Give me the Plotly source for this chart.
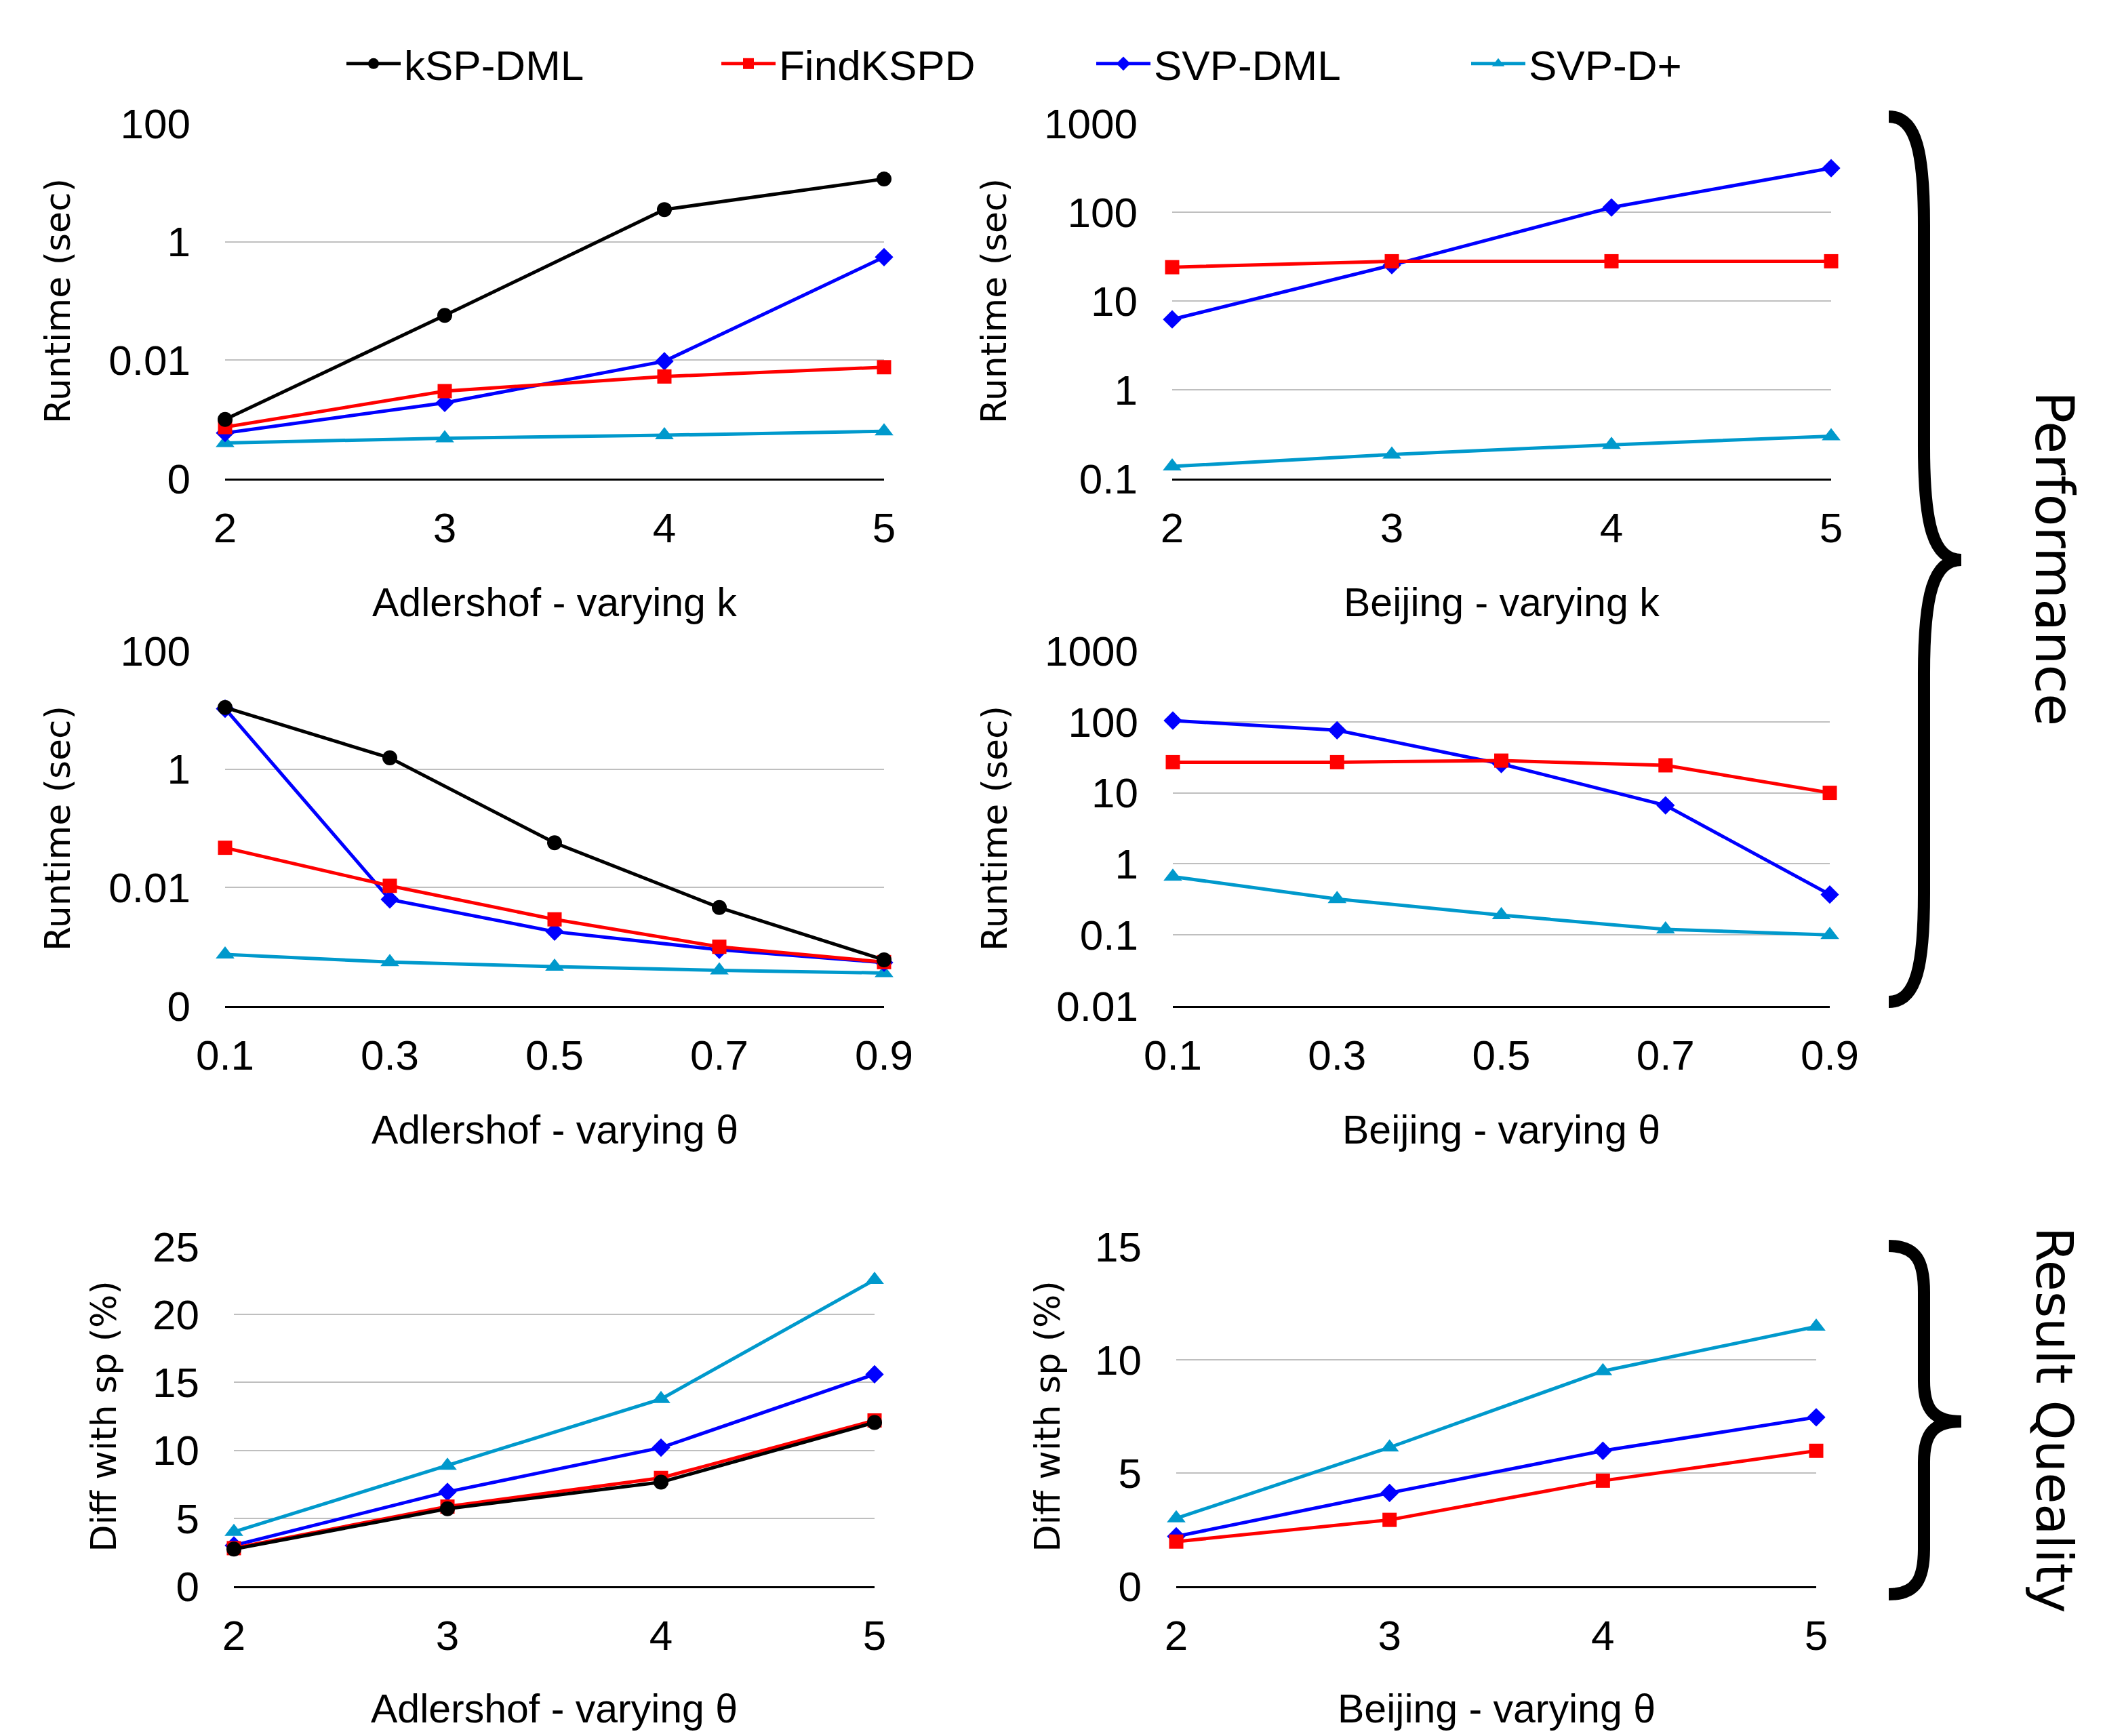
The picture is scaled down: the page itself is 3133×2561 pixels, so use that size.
import plotly.graph_objects as go

W, H = 3133, 2561
OFF = 8  # default page body margin

# ---------------- data ----------------
series_names = ["kSP-DML", "FindKSPD", "SVP-DML", "SVP-D+"]
series_colors = ["#000000", "#FF0000", "#0000FF", "#0099CC"]
series_symbols = ["circle", "square", "diamond", "triangle-up"]

k_values = [2, 3, 4, 5]
k_labels = ["2", "3", "4", "5"]
theta_values = [0.1, 0.3, 0.5, 0.7, 0.9]
theta_labels = ["0.1", "0.3", "0.5", "0.7", "0.9"]

# Adlershof - varying k (runtime, sec)
adl_k_kspdml = [0.001, 0.057, 3.5, 11.5]
adl_k_findkspd = [0.00074, 0.003, 0.0053, 0.0076]
adl_k_svpdml = [0.00059, 0.0019, 0.0096, 0.55]
adl_k_svpdplus = [0.0004, 0.00048, 0.00054, 0.00063]

# Beijing - varying k (runtime, sec)
bj_k_findkspd = [24, 28, 28, 28]
bj_k_svpdml = [6.2, 25.3, 113, 313]
bj_k_svpdplus = [0.137, 0.187, 0.24, 0.30]

# Adlershof - varying theta (runtime, sec)
adl_t_kspdml = [11, 1.55, 0.057, 0.0046, 0.0006]
adl_t_findkspd = [0.047, 0.0107, 0.0029, 0.001, 0.00055]
adl_t_svpdml = [10.5, 0.0063, 0.0018, 0.00089, 0.00054]
adl_t_svpdplus = [0.00074, 0.00055, 0.00046, 0.0004, 0.00036]

# Beijing - varying theta (runtime, sec)
bj_t_findkspd = [27, 27, 28.4, 24.4, 10]
bj_t_svpdml = [104, 76, 25.5, 6.67, 0.37]
bj_t_svpdplus = [0.66, 0.32, 0.19, 0.12, 0.1]

# Result quality: diff with sp (%)
adl_q_kspdml = [2.73, 5.7, 7.66, 12.05]
adl_q_findkspd = [2.8, 5.86, 7.97, 12.2]
adl_q_svpdml = [3.0, 6.94, 10.2, 15.6]
adl_q_svpdplus = [4.0, 8.87, 13.78, 22.55]

bj_q_findkspd = [1.97, 2.93, 4.66, 5.98]
bj_q_svpdml = [2.2, 4.12, 5.98, 7.46]
bj_q_svpdplus = [3.0, 6.13, 9.5, 11.47]

# y axis ticks
adl_rt_tickvals = [0.0001, 0.01, 1, 100]
adl_rt_ticktext = ["0", "0.01", "1", "100"]
bj_k_tickvals = [0.1, 1, 10, 100, 1000]
bj_k_ticktext = ["0.1", "1", "10", "100", "1000"]
bj_t_tickvals = [0.01, 0.1, 1, 10, 100, 1000]
bj_t_ticktext = ["0.01", "0.1", "1", "10", "100", "1000"]
adl_q_tickvals = [0, 5, 10, 15, 20, 25]
bj_q_tickvals = [0, 5, 10, 15]

x_titles = ["Adlershof - varying k", "Beijing - varying k",
            "Adlershof - varying θ", "Beijing - varying θ",
            "Adlershof - varying θ", "Beijing - varying θ"]
y_titles = ["Runtime (sec)"] * 4 + ["Diff with sp (%)"] * 2

# ---------------- layout helpers ----------------
FW, FH = W - 2 * OFF, H - 2 * OFF


def fx(px):
    return (px - OFF) / FW


def fy(py):
    return 1 - (py - OFF) / FH


# panel boxes in screen pixels: (left, right, top, bottom)
boxes = [
    (332, 1304, 182, 706),
    (1729, 2701, 182, 706),
    (332, 1304, 960, 1484),
    (1730, 2699, 960, 1484),
    (345, 1290, 1839, 2340),
    (1735, 2679, 1839, 2340),
]

HELV = "Liberation Sans, Arial, Helvetica"
LUCIDA = "DejaVu Sans, Verdana"
TICK_FONT = dict(family=HELV, size=62, color="black")
TITLE_FONT = dict(family=LUCIDA, size=52, color="black")

fig = go.Figure()

# legend-only traces (legend order)
for name, col, sym in zip(series_names, series_colors, series_symbols):
    fig.add_trace(go.Scatter(
        x=[None], y=[None], name=name, mode="lines+markers",
        line=dict(color=col, width=5),
        marker=dict(symbol=sym, size=16, color=col),
        xaxis="x", yaxis="y", showlegend=True))

panels = [
    (k_values, {"kSP-DML": adl_k_kspdml, "FindKSPD": adl_k_findkspd,
                "SVP-DML": adl_k_svpdml, "SVP-D+": adl_k_svpdplus}),
    (k_values, {"FindKSPD": bj_k_findkspd, "SVP-DML": bj_k_svpdml,
                "SVP-D+": bj_k_svpdplus}),
    (theta_values, {"kSP-DML": adl_t_kspdml, "FindKSPD": adl_t_findkspd,
                    "SVP-DML": adl_t_svpdml, "SVP-D+": adl_t_svpdplus}),
    (theta_values, {"FindKSPD": bj_t_findkspd, "SVP-DML": bj_t_svpdml,
                    "SVP-D+": bj_t_svpdplus}),
    (k_values, {"kSP-DML": adl_q_kspdml, "FindKSPD": adl_q_findkspd,
                "SVP-DML": adl_q_svpdml, "SVP-D+": adl_q_svpdplus}),
    (k_values, {"FindKSPD": bj_q_findkspd, "SVP-DML": bj_q_svpdml,
                "SVP-D+": bj_q_svpdplus}),
]

marker_sizes = {"circle": 22, "square": 21, "diamond": 21, "triangle-up": 24}
draw_order = ["SVP-D+", "SVP-DML", "FindKSPD", "kSP-DML"]

for i, (xs, data) in enumerate(panels):
    ax = "" if i == 0 else str(i + 1)
    for name in draw_order:
        if name not in data:
            continue
        j = series_names.index(name)
        fig.add_trace(go.Scatter(
            x=xs, y=data[name], name=name, mode="lines+markers",
            line=dict(color=series_colors[j], width=5),
            marker=dict(symbol=series_symbols[j], size=marker_sizes[series_symbols[j]],
                        color=series_colors[j]),
            xaxis="x" + ax, yaxis="y" + ax, showlegend=False, cliponaxis=False))

yaxis_specs = [
    dict(type="log", range=[-4, 2], tickvals=adl_rt_tickvals, ticktext=adl_rt_ticktext),
    dict(type="log", range=[-1, 3], tickvals=bj_k_tickvals, ticktext=bj_k_ticktext),
    dict(type="log", range=[-4, 2], tickvals=adl_rt_tickvals, ticktext=adl_rt_ticktext),
    dict(type="log", range=[-2, 3], tickvals=bj_t_tickvals, ticktext=bj_t_ticktext),
    dict(type="linear", range=[0, 25], tickvals=adl_q_tickvals,
         ticktext=[str(v) for v in adl_q_tickvals]),
    dict(type="linear", range=[0, 15], tickvals=bj_q_tickvals,
         ticktext=[str(v) for v in bj_q_tickvals]),
]
xaxis_specs = [
    (k_values, k_labels), (k_values, k_labels),
    (theta_values, theta_labels), (theta_values, theta_labels),
    (k_values, k_labels), (k_values, k_labels),
]

layout = dict(
    width=FW, height=FH,
    margin=dict(l=0, r=0, t=0, b=0, pad=0, autoexpand=False),
    paper_bgcolor="white", plot_bgcolor="white",
    showlegend=True,
    legend=dict(orientation="h", x=fx(506), y=fy(94), xanchor="left", yanchor="middle",
                font=dict(family=HELV, size=62, color="black"),
                entrywidth=458, entrywidthmode="pixels", itemwidth=80,
                bgcolor="rgba(0,0,0,0)", borderwidth=0),
)

annotations = []
for i in range(6):
    l, r, t, b = boxes[i]
    ax = "" if i == 0 else str(i + 1)
    xs, xl = xaxis_specs[i]
    layout["xaxis" + ax] = dict(
        domain=[fx(l), fx(r)], anchor="y" + ax, range=[xs[0], xs[-1]],
        tickmode="array", tickvals=xs, ticktext=xl, showgrid=False, zeroline=False,
        showline=True, linecolor="black", linewidth=3, ticks="",
        tickfont=TICK_FONT, ticklabelstandoff=17, automargin=False, fixedrange=True)
    ys = yaxis_specs[i]
    layout["yaxis" + ax] = dict(
        domain=[fy(b), fy(t)], anchor="x" + ax, type=ys["type"], range=ys["range"],
        tickmode="array", tickvals=ys["tickvals"], ticktext=ys["ticktext"],
        showgrid=True, gridcolor="#BFBFBF", gridwidth=2, zeroline=False,
        showline=False, ticks="", tickfont=TICK_FONT, ticklabelstandoff=50,
        automargin=False, fixedrange=True)
    # x title
    xt_y = b + (183 if i < 4 else 181)
    annotations.append(dict(
        text=x_titles[i], x=fx((l + r) / 2), y=fy(xt_y), xref="paper", yref="paper",
        xanchor="center", yanchor="middle", showarrow=False,
        font=dict(family=HELV, size=59, color="black")))
    # y title
    yt_x = [85, 1466, 85, 1467, 152, 1544][i]
    annotations.append(dict(
        text=y_titles[i], x=fx(yt_x), y=fy((t + b) / 2), xref="paper", yref="paper",
        xanchor="center", yanchor="middle", showarrow=False, textangle=-90,
        font=TITLE_FONT))

annotations.append(dict(
    text="Performance", x=fx(3030), y=fy(824), xref="paper", yref="paper",
    xanchor="center", yanchor="middle", showarrow=False, textangle=90,
    font=dict(family=LUCIDA, size=78, color="black")))
annotations.append(dict(
    text="Result Queality", x=fx(3030), y=fy(2095), xref="paper", yref="paper",
    xanchor="center", yanchor="middle", showarrow=False, textangle=90,
    font=dict(family=LUCIDA, size=75, color="black")))
layout["annotations"] = annotations


def brace_path(x_end, x_stem, x_tip, y0, ym, y1, c1, c2):
    def P(x, y):
        return f"{fx(x):.5f},{fy(y):.5f}"
    xc = x_end + 0.8 * (x_stem - x_end)
    xt = x_stem + 0.25 * (x_tip - x_stem)
    d = (f"M{P(x_end, y0)} C{P(xc, y0)} {P(x_stem, y0 + 0.35 * c1)} {P(x_stem, y0 + c1)} "
         f"L{P(x_stem, ym - c2)} C{P(x_stem, ym - 0.3 * c2)} {P(xt, ym)} {P(x_tip, ym)} "
         f"C{P(xt, ym)} {P(x_stem, ym + 0.3 * c2)} {P(x_stem, ym + c2)} "
         f"L{P(x_stem, y1 - c1)} C{P(x_stem, y1 - 0.35 * c1)} {P(xc, y1)} {P(x_end, y1)}")
    return d


layout["shapes"] = [
    dict(type="path", xref="paper", yref="paper",
         path=brace_path(2786, 2838, 2893, 172, 826, 1478, 160, 168),
         line=dict(color="black", width=18)),
    dict(type="path", xref="paper", yref="paper",
         path=brace_path(2786, 2838, 2893, 1838, 2097, 2352, 68, 60),
         line=dict(color="black", width=18)),
]

fig.update_layout(**layout)
fig.write_html("out.html")
